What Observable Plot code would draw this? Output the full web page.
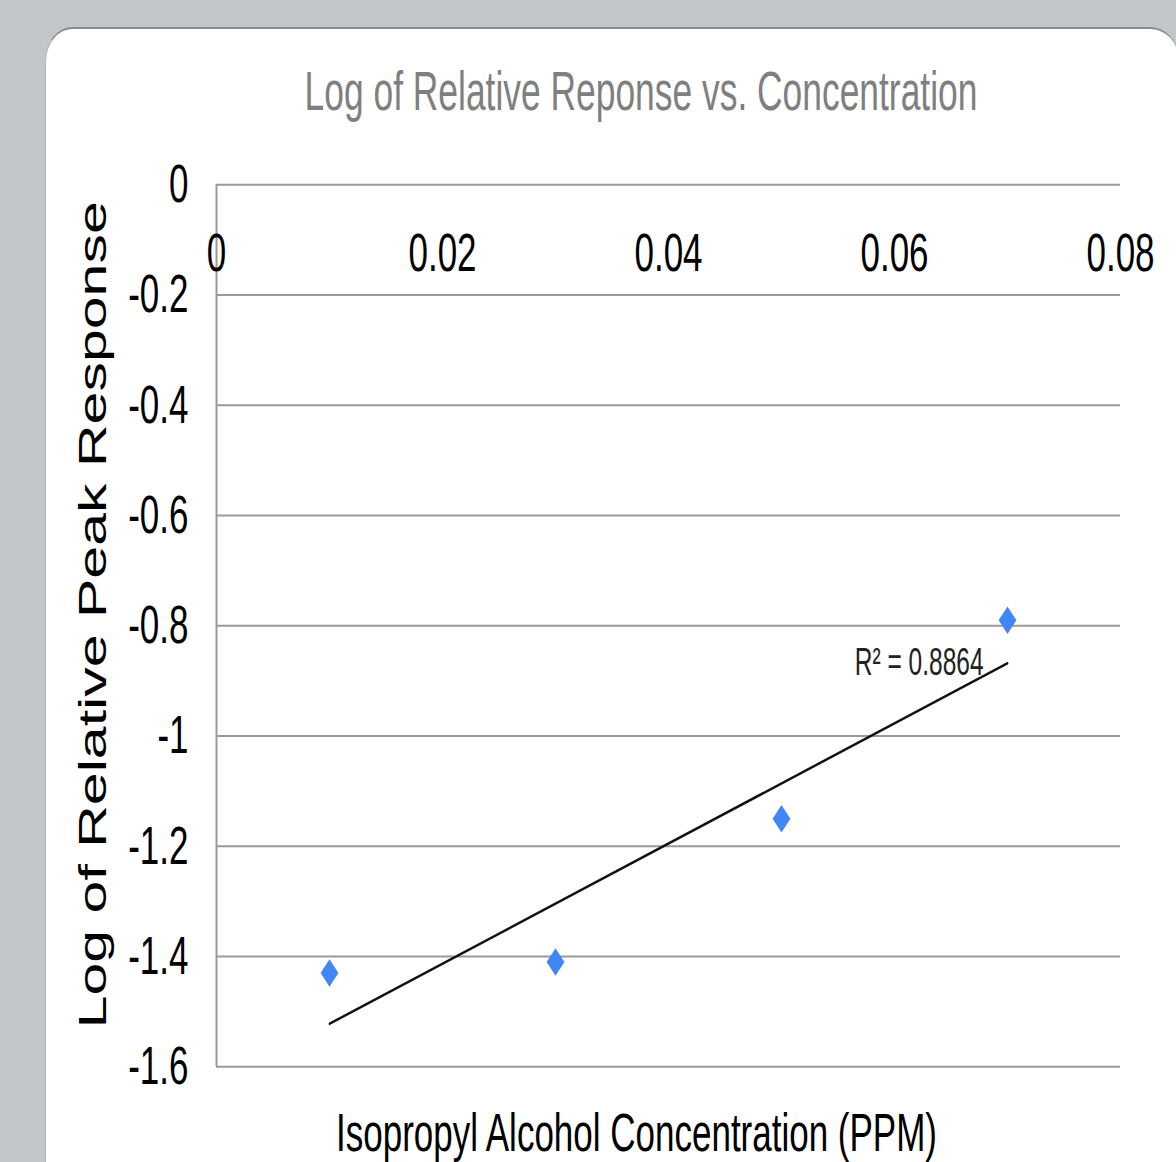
<!DOCTYPE html>
<html><head><meta charset="utf-8">
<script src="https://cdn.jsdelivr.net/npm/d3@7"></script>
<script src="https://cdn.jsdelivr.net/npm/@observablehq/plot@0.6"></script>
<style>
html,body{margin:0;padding:0;background:#c2c6c9;width:1176px;height:1162px;overflow:hidden;}
#panel{position:absolute;left:45px;top:27px;width:1133px;height:1200px;background:#fff;border-top:2px solid #8a8a8a;border-left:1px solid #b5b5b5;border-radius:27px 28px 0 0 / 35px 30px 0 0;box-sizing:border-box;}
#title{position:absolute;left:41px;width:1200px;top:65px;text-align:center;font:35.4px "Liberation Sans",Arial,sans-serif;color:#7f7f7f;transform:scaleY(1.55);transform-origin:50% 0;line-height:1;white-space:nowrap;}
#chart{position:absolute;left:0;top:130px;}
</style></head><body>
<div id="panel"></div>
<div id="title"></div>
<div id="chart"></div>
<script>
const titleText = "Log of Relative Reponse vs. Concentration";
const xLabel = "Isopropyl Alcohol Concentration (PPM)";
const yLabel = "Log of Relative Peak Response";
const r2Label = "R² = 0.8864";
const concentration = [0.01, 0.03, 0.05, 0.07];
const logResponse = [-1.43, -1.41, -1.15, -0.79];
const xTicks = [0, 0.02, 0.04, 0.06, 0.08];
const yTicks = [0, -0.2, -0.4, -0.6, -0.8, -1, -1.2, -1.4, -1.6];

document.getElementById("title").textContent = titleText;

const S = 1.55;            // vertical stretch of the original picture
const W = 1176, svgTop = 130, pageH = 1162;
const H = (pageH - svgTop) / S;
const data = concentration.map((x, i) => ({x, y: logResponse[i]}));

const mx = d3.mean(concentration), my = d3.mean(logResponse);
const slope = d3.sum(data, d => (d.x - mx) * (d.y - my)) / d3.sum(data, d => (d.x - mx) ** 2);
const intercept = my - slope * mx;
const lastX = d3.max(concentration);
const labelPos = [{x: lastX, y: intercept + slope * lastX, text: r2Label}];

const font = '"Liberation Sans", Arial, sans-serif';
const chart = Plot.plot({
  width: W, height: H,
  marginLeft: 216, marginRight: 56, marginTop: (184 - svgTop) / S, marginBottom: (pageH - 1066) / S,
  style: {fontFamily: font, fontSize: "35px", color: "#000", background: "transparent", overflow: "visible"},
  x: {domain: [0, 0.08], label: null},
  y: {domain: [-1.6, 0], label: null},
  marks: [
    Plot.gridY(yTicks, {stroke: "#999", strokeOpacity: 1, strokeWidth: 1.3}),
    Plot.ruleX([0], {y1: -1.6, y2: 0, stroke: "#999", strokeWidth: 2}),
    Plot.axisY({ticks: yTicks, tickSize: 0, tickPadding: 28, tickFormat: d => String(d), label: null, fontSize: 35, fill: "#000"}),
    Plot.axisX({anchor: "top", ticks: xTicks, tickSize: 0, tickPadding: -31, lineAnchor: "top", tickFormat: d => String(d), label: null, fontSize: 35, fill: "#000"}),
    Plot.text([yLabel], {text: d => d, frameAnchor: "left", textAnchor: "middle", rotate: -90, lineAnchor: "top", dx: 78 - 216, dy: -11 / S, fontSize: 38.1, fill: "#000"}),
    Plot.text([xLabel], {text: d => d, frameAnchor: "bottom", textAnchor: "middle", lineAnchor: "top", dx: 636 - 668, dy: (1112 - 1066) / S, fontSize: 35, fill: "#000"}),
    Plot.linearRegressionY(data, {x: "x", y: "y", ci: 0, stroke: "#111", strokeWidth: 1.7}),
    Plot.dot(data, {x: "x", y: "y", symbol: "diamond2", r: 8, fill: "#4285f4"}),
    Plot.text(labelPos, {x: "x", y: "y", text: "text", textAnchor: "end", lineAnchor: "middle", dx: -24, fontSize: 24.5, fill: "#222"})
  ]
});
chart.setAttribute("viewBox", `0 0 ${W} ${H}`);
chart.setAttribute("preserveAspectRatio", "none");
chart.setAttribute("height", H * S);
chart.style.height = (H * S) + "px";
chart.style.width = W + "px";
chart.style.maxWidth = "none";
document.getElementById("chart").appendChild(chart);
</script>
</body></html>
